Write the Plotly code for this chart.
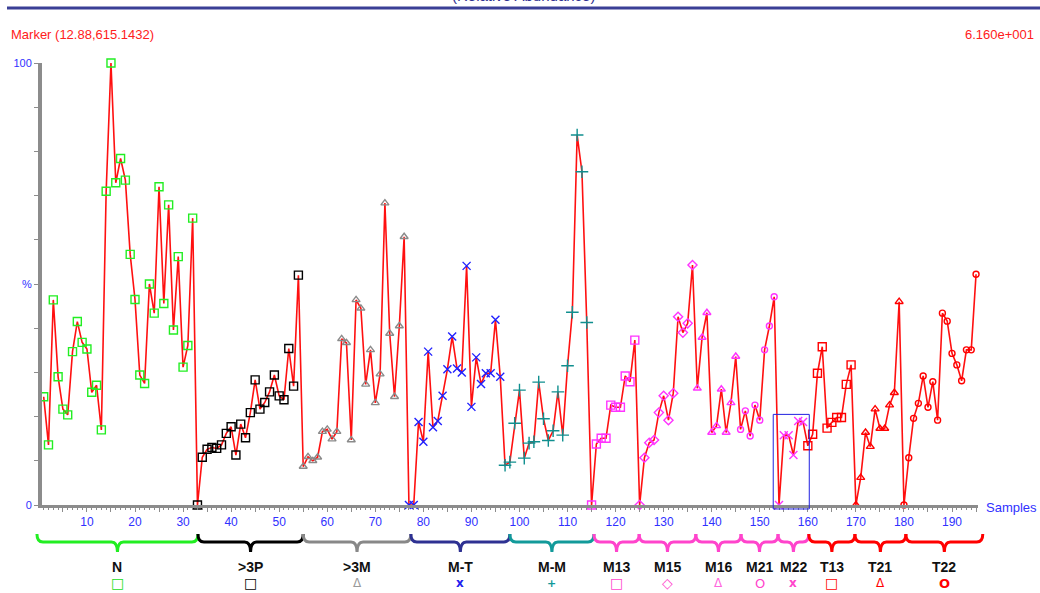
import plotly.graph_objects as go

# ---- data: relative intensity (%) per sample, grouped by sample class ----
groups = ["N", ">3P", ">3M", "M-T", "M-M", "M13", "M15", "M16", "M21", "M22", "T13", "T21", "T22"]

n_vals = [24.5, 13.6, 46.4, 29.0, 21.7, 20.4, 34.7, 41.5, 36.8, 35.3, 25.5, 27.1, 17.0, 71.0, 100.0, 72.9,
          78.4, 73.5, 56.7, 46.5, 29.4, 27.5, 50.0, 43.4, 72.0, 45.6, 67.9, 39.6, 56.2, 31.2, 36.1, 64.9]
p3_vals = [0.0, 10.8, 12.6, 13.0, 12.8, 13.6, 16.2, 17.7, 11.3, 18.3, 15.2, 20.9, 28.3, 21.7, 23.2, 25.6,
           29.4, 24.7, 23.8, 35.4, 26.9, 52.0]
m3_vals = [8.7, 10.9, 10.0, 10.8, 16.6, 17.1, 14.9, 16.6, 37.6, 36.7, 14.7, 46.4, 44.5, 27.3, 35.1, 23.1,
           29.6, 68.3, 38.8, 24.5, 40.5, 60.7]
mt_vals = [0.0, 0.0, 18.8, 14.3, 34.7, 17.6, 19.0, 24.7, 30.7, 38.1, 30.9, 30.0, 54.1, 22.2, 33.4, 27.4,
           29.8, 29.8, 41.9, 29.0]
mm_vals = [9.0, 9.7, 18.5, 26.0, 10.6, 14.0, 14.3, 27.8, 19.5, 14.6, 16.8, 25.6, 15.8, 31.5, 43.6, 83.7,
           75.4, 41.3]
m13_vals = [0.0, 13.8, 15.1, 15.1, 22.6, 22.1, 22.1, 29.2, 27.9, 37.3]
m15_vals = [0.0, 10.7, 14.1, 14.7, 20.9, 24.7, 19.2, 25.3, 42.6, 39.0, 41.1, 54.3]
m16_vals = [26.4, 37.9, 43.5, 16.4, 17.9, 26.2, 16.4, 23.1, 33.6]
m21_vals = [17.1, 21.3, 15.6, 22.6, 19.2, 35.1, 40.5, 47.1]
m22_vals = [0.0, 15.8, 15.8, 11.3, 19.0, 18.8]
t13_vals = [13.4, 16.0, 29.8, 35.8, 17.4, 18.7, 19.8, 19.8, 27.3, 31.7]
t21_vals = [0.0, 6.2, 16.4, 13.2, 21.7, 17.3, 17.3, 22.6, 25.4, 46.0]
t22_vals = [0.0, 10.7, 19.6, 23.0, 29.2, 22.1, 27.9, 19.2, 43.4, 41.6, 34.3, 31.7, 28.1, 35.1, 35.1, 52.2]

group_values = [n_vals, p3_vals, m3_vals, mt_vals, mm_vals, m13_vals, m15_vals, m16_vals,
                m21_vals, m22_vals, t13_vals, t21_vals, t22_vals]

# brace edges along the sample axis, one more than the number of groups
brace_edges = [-0.4, 33.1, 55.0, 77.4, 98.0, 115.5, 124.9, 136.7, 146.1, 153.8, 160.2, 169.8, 180.4, 196.4]

y_tick_labels = {0: "0", 50: "%", 100: "100"}

zoom_box = dict(s0=152.8, s1=160.3, v0=-0.9, v1=20.5)

# ---- styles ----
MAG = "#ff33ff"
marker_styles = [
    ("square-open", "#22ee22", 8),
    ("square-open", "#000000", 8),
    ("triangle-up-open", "#8a8a8a", 7),
    ("x-thin-open", "#2020ff", 8),
    ("cross-thin-open", "#108f8f", 9),
    ("square-open", MAG, 8),
    ("diamond-open", MAG, 7),
    ("triangle-up-open", MAG, 7),
    ("circle-open", MAG, 6),
    ("x-thin-open", MAG, 8),
    ("square-open", "#ff0000", 8),
    ("triangle-up-open", "#ff0000", 7),
    ("circle-open", "#ff0000", 6),
]
brace_colors = ["#22ee22", "#000000", "#888888", "#2e3192", "#129a9a", "#ff44cc", "#ff44cc",
                "#ff44cc", "#ff44cc", "#ff44cc", "#ff0000", "#ff0000", "#ff0000"]
legend_glyphs = [("□", "#22dd22", 14, False), ("□", "#000000", 14, True), ("Δ", "#999999", 12, False),
                 ("x", "#2020ee", 12, True), ("+", "#119999", 11, True), ("□", "#ff44cc", 14, False),
                 ("◇", "#ff44cc", 14, False), ("Δ", "#ff66dd", 12, False), ("O", "#ff44cc", 13, False),
                 ("x", "#ff44cc", 12, True), ("□", "#ff0000", 14, True), ("Δ", "#ff0000", 12, False),
                 ("O", "#ff0000", 13, True)]

# ---- canvas geometry (pixels) ----
W, H = 1040, 593
PL, PR, PT, PB = 42, 978, 63, 505
X0 = 0.65
X1 = X0 + (PR - PL) / 4.806


def px_x(s):
    return PL + (s - X0) / (X1 - X0) * (PR - PL)


def px_y(v):
    return PB - v / 100.0 * (PB - PT)


def fx(p):
    return p / W


def fy(p):
    return 1 - p / H


# sample numbers, running across all groups
samples_by_group = []
start = 1
for vals in group_values:
    samples_by_group.append(list(range(start, start + len(vals))))
    start += len(vals)
all_x = [s for grp in samples_by_group for s in grp]
all_y = [v for vals in group_values for v in vals]

fig = go.Figure()
fig.add_trace(go.Scatter(x=all_x, y=all_y, mode="lines", line=dict(color="#ff1010", width=1.6),
                         cliponaxis=False, hoverinfo="skip"))
for name, xs, vals, (sym, col, size) in zip(groups, samples_by_group, group_values, marker_styles):
    fig.add_trace(go.Scatter(x=xs, y=vals, mode="markers", name=name, cliponaxis=False,
                             marker=dict(symbol=sym, size=size, color=col,
                                         line=dict(color=col, width=1.4))))

shapes = []
annotations = []
FONT = "Liberation Sans, Arial"

# header rule
shapes.append(dict(type="line", xref="paper", yref="paper", x0=fx(7), x1=1.0, y0=fy(8), y1=fy(8),
                   line=dict(color="#3a3f96", width=3)))
annotations.append(dict(text="(Relative Abundance)", xref="paper", yref="paper", x=fx(523), y=fy(6),
                        xanchor="center", yanchor="bottom", showarrow=False,
                        font=dict(family=FONT, size=15, color="#2e3192")))

# marker readouts
annotations.append(dict(text="Marker (12.88,615.1432)", xref="paper", yref="paper", x=fx(9), y=fy(35),
                        xanchor="left", yanchor="middle", showarrow=False,
                        font=dict(family=FONT, size=13, color="#ff2020")))
annotations.append(dict(text="6.160e+001", xref="paper", yref="paper", x=fx(1036), y=fy(35),
                        xanchor="right", yanchor="middle", showarrow=False,
                        font=dict(family=FONT, size=13, color="#ff2020")))
annotations.append(dict(text="Samples", xref="paper", yref="paper", x=fx(984), y=fy(507),
                        xanchor="left", yanchor="middle", showarrow=False,
                        font=dict(family=FONT, size=13, color="#3030ff")))

# selection box
shapes.append(dict(type="rect", xref="paper", yref="paper",
                   x0=fx(px_x(zoom_box["s0"])), x1=fx(px_x(zoom_box["s1"])),
                   y0=fy(px_y(zoom_box["v0"])), y1=fy(px_y(zoom_box["v1"])),
                   line=dict(color="#2020e0", width=1), fillcolor="rgba(0,0,0,0)"))

# group braces, labels and symbols
yt, yh, yb = 534, 542, 552
for i, name in enumerate(groups):
    xl, xr = px_x(brace_edges[i]), px_x(brace_edges[i + 1])
    xm = (xl + xr) / 2
    r = min(6, (xr - xl) / 4)

    def P(x, y):
        return f"{fx(x):.5f},{fy(y):.5f}"

    path = (f"M {P(xl, yt)} Q {P(xl, yh)} {P(xl + r, yh)} L {P(xm - r, yh)} "
            f"Q {P(xm, yh)} {P(xm, yb)} Q {P(xm, yh)} {P(xm + r, yh)} "
            f"L {P(xr - r, yh)} Q {P(xr, yh)} {P(xr, yt)}")
    shapes.append(dict(type="path", xref="paper", yref="paper", path=path,
                       line=dict(color=brace_colors[i], width=3)))
    annotations.append(dict(text=f"<b>{name.replace('>', '&gt;')}</b>", xref="paper", yref="paper",
                            x=fx(xm), y=fy(567), xanchor="center", yanchor="middle", showarrow=False,
                            font=dict(family=FONT, size=14, color="#111111")))
    g, col, size, bold = legend_glyphs[i]
    annotations.append(dict(text=f"<b>{g}</b>" if bold else g, xref="paper", yref="paper",
                            x=fx(xm), y=fy(583), xanchor="center", yanchor="middle", showarrow=False,
                            font=dict(family="DejaVu Sans", size=size, color=col)))

fig.update_layout(
    width=W, height=H,
    margin=dict(l=0, r=0, t=0, b=0, pad=0, autoexpand=False),
    paper_bgcolor="white", plot_bgcolor="white",
    showlegend=False,
    shapes=shapes, annotations=annotations,
    xaxis=dict(domain=[PL / W, PR / W], range=[X0, X1], showgrid=False, zeroline=False,
               automargin=False,
               showline=True, linecolor="#8c8c8c", linewidth=3,
               tickmode="array", tickvals=list(range(5, 196, 5)),
               ticktext=[str(v) if v % 10 == 0 else "" for v in range(5, 196, 5)],
               ticks="outside", ticklen=4, tickwidth=1, tickcolor="#8c8c8c",
               minor=dict(dtick=1, ticks="outside", ticklen=2, tickcolor="#8c8c8c", tickwidth=1),
               tickfont=dict(family=FONT, size=12, color="#3030ff")),
    yaxis=dict(domain=[1 - PB / H, 1 - PT / H], range=[0, 100], showgrid=False, zeroline=False,
               automargin=False,
               showline=True, linecolor="#8c8c8c", linewidth=4,
               tickmode="array", tickvals=list(range(0, 101, 10)),
               ticktext=[y_tick_labels.get(v, "") for v in range(0, 101, 10)],
               ticks="outside", ticklen=4, tickwidth=1, tickcolor="#8c8c8c",
               tickfont=dict(family=FONT, size=11, color="#3030ff")),
)

fig.write_html("out.html")
